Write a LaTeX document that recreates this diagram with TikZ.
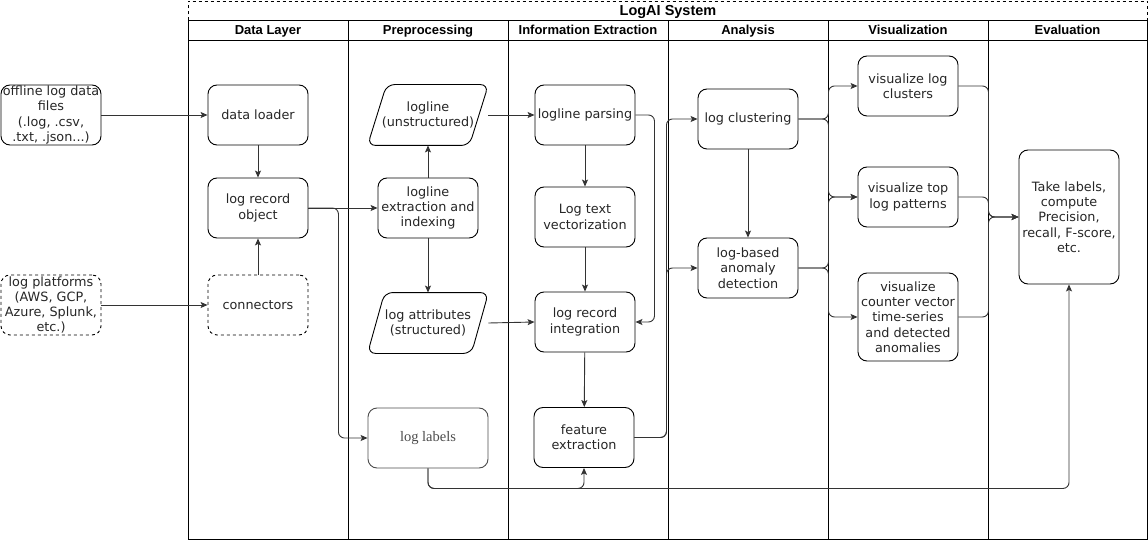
\documentclass[tikz,border=0pt]{standalone}
\usepackage{fontspec}
\setmainfont{DejaVu Sans}
\newfontfamily\hdrfont{Liberation Sans}
\newfontfamily\tmsfont{Liberation Serif}
\usetikzlibrary{arrows.meta,calc}
\begin{document}
\begin{tikzpicture}[x=1pt,y=-1pt,
 box/.style={draw=black, line width=0.9pt, rounded corners=9pt, minimum width=100pt, minimum height=60pt, inner sep=0pt, align=center, font=\fontsize{12.8}{15.3}\selectfont, text=black!85},
 pgram/.style={box, draw=none, minimum width=120pt},
 pgline/.style={draw=black, line width=0.9pt, rounded corners=8pt},
 dbox/.style={box, dashed},
 edge/.style={draw=black!80, line width=0.9pt, rounded corners=6pt, -{Stealth[length=7pt,width=6pt,inset=1.5pt]}},
 hdr/.style={font=\hdrfont\bfseries\fontsize{13}{15}\selectfont, inner sep=0pt, text height=9.5pt, text depth=2.5pt},
 ttl/.style={font=\hdrfont\bfseries\fontsize{14.5}{16}\selectfont, inner sep=0pt, text height=10.5pt, text depth=3pt},
 lane/.style={line width=0.9pt}
]
\useasboundingbox (0,0) rectangle (1148,540);

% frame
\draw[lane,dashed] (188,20.5) -- (188,1) -- (1147,1) -- (1147,20.5);
\draw[lane] (188,20.5) -- (1147,20.5);
\draw[lane] (188,40.5) -- (1147,40.5);
\draw[lane] (188,20.5) -- (188,539) -- (1147,539) -- (1147,20.5);
\foreach \x in {348,508,668,828,988} \draw[lane] (\x,20.5) -- (\x,539);

\node[ttl] (title) at (668,12) {LogAI System};
\node[hdr] (h1) at (268,31.5) {Data Layer};
\node[hdr] (h2) at (428,31.5) {Preprocessing};
\node[hdr] (h3) at (588,31.5) {Information Extraction};
\node[hdr] (h4) at (748,31.5) {Analysis};
\node[hdr] (h5) at (908,31.5) {Visualization};
\node[hdr] (h6) at (1067.5,31.5) {Evaluation};

% nodes
\node[box] (off) at (51,115) {offline log data\\files\\(.log, .csv,\\.txt, .json...)};
\node[dbox] (plat) at (51,305) {log platforms\\(AWS, GCP,\\Azure, Splunk,\\etc.)};
\node[box] (dl) at (258,115) {data loader};
\node[box] (lro) at (258,208) {log record\\object};
\node[dbox] (conn) at (258,305) {connectors};

\node[pgram] (ll) at (428,115) {logline\\(unstructured)};
\draw[pgline] ($(ll.south)$) -- (ll.south west) -- ($(ll.north west)+(19,0)$) -- (ll.north east) -- ($(ll.south east)+(-19,0)$) -- cycle;
\node[box] (lei) at (428,208) {logline\\extraction and\\indexing};
\node[pgram] (la) at (428,323) {log attributes\\(structured)};
\draw[pgline] ($(la.south)$) -- (la.south west) -- ($(la.north west)+(17,0)$) -- (la.north east) -- ($(la.south east)+(-17,0)$) -- cycle;
\node[box, draw=black!70, minimum width=120pt, font=\tmsfont\fontsize{14.5}{16}\selectfont, text=black!70] (lab) at (428,438) {log labels};

\node[box] (lp) at (585,115) {logline parsing};
\node[box] (ltv) at (585,217) {Log text\\vectorization};
\node[box] (lri) at (585,322) {log record\\integration};
\node[box] (fe) at (584,437.5) {feature\\extraction};

\node[box] (lc) at (748,119) {log clustering};
\node[box] (lad) at (748,268) {log-based\\anomaly\\detection};

\node[box] (v1) at (908,86) {visualize log\\clusters};
\node[box] (v2) at (908,197) {visualize top\\log patterns};
\node[box, minimum height=88pt] (v3) at (908,317) {visualize\\counter vector\\time-series\\and detected\\anomalies};

\node[box, minimum height=134pt] (tk) at (1069,217) {Take labels,\\compute\\Precision,\\recall, F-score,\\etc.};

% edges
\draw[edge] (off) -- (dl);
\draw[edge] (plat) -- (conn);
\draw[edge] (dl) -- (lro);
\draw[edge] (conn) -- (lro);
\draw[edge] (lro.east) -- (lei.west);
\draw[edge] (lro.east) -- ++(30,0) |- (lab.west);
\draw[edge] (lei) -- (ll);
\draw[edge] (lei) -- (la);
\draw[edge] (ll.east) -- (lp.west);
\draw[edge] (la.east) -- (lri.west);
\draw[edge] (lp) -- (ltv);
\draw[edge] (ltv) -- (lri);
\draw[edge] (lri) -- (fe);
\draw[edge] (lp.east) -- ++(19,0) |- (lri.east);
\draw[edge] (fe.east) -- ++(32,0) |- (lc.west);
\draw[edge] (fe.east) -- ++(32,0) |- (lad.west);
\draw[edge] (lab.south) -- ++(0,20) -| (fe.south);
\draw[edge] (lab.south) -- ++(0,20) -| (tk.south);
\draw[edge] (lc) -- (lad);
\draw[edge] (lc.east) -- ++(30,0) |- (v1.west);
\draw[edge] (lc.east) -- ++(30,0) |- (v2.west);
\draw[edge] (lad.east) -- ++(30,0) |- (v2.west);
\draw[edge] (lad.east) -- ++(30,0) |- (v3.west);
\draw[edge] (v1.east) -- ++(30,0) |- (tk.west);
\draw[edge] (v2.east) -- ++(30,0) |- (tk.west);
\draw[edge] (v3.east) -- ++(30,0) |- (tk.west);
\end{tikzpicture}
\end{document}
